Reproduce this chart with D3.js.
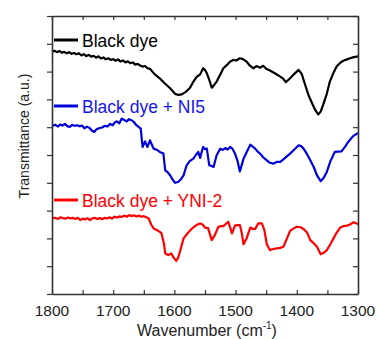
<!DOCTYPE html>
<html>
<head>
<meta charset="utf-8">
<script src="https://cdn.jsdelivr.net/npm/d3@7"></script>
<style>
  html, body { margin: 0; padding: 0; background: #fff; }
  svg { display: block; font-family: Arial, "Liberation Sans", sans-serif; }
</style>
</head>
<body>
<svg id="chart" width="376" height="339"></svg>
<script>
// ---- data (wavenumber in cm^-1, transmittance in arbitrary offset units) ----
const seriesNames = ["Black dye", "Black dye + NI5", "Black dye + YNI-2"];
const seriesColors = ["#000000", "#0000dd", "#ff0000"];
const xTickValues = [1800, 1700, 1600, 1500, 1400, 1300];

const blackWn = [1800,1796,1792,1788,1784,1780,1776,1772,1768,1764,1760,1756,1752,1748,1744,1740,1736,1732,1728,1724,1720,1716,1712,1708,1704,1700,1696,1692,1688,1684,1680,1676,1672,1668,1664,1660,1656,1652,1648,1644,1640,1632,1624,1616,1607,1599,1593,1588,1582,1575,1570,1564,1558,1553,1550,1547,1543,1539,1535,1531,1525,1520,1514,1509,1504,1499,1493,1488,1482,1477,1471,1466,1460,1455,1450,1444,1436,1427,1422,1418,1414,1411,1404,1397,1392,1386,1381,1375,1370,1365,1361,1357,1351,1346,1340,1335,1329,1324,1318,1313,1307,1300];
const blackT  = [8.72,8.75,8.70,8.74,8.68,8.71,8.66,8.70,8.64,8.67,8.62,8.66,8.58,8.63,8.56,8.60,8.54,8.57,8.50,8.55,8.47,8.51,8.44,8.48,8.42,8.45,8.39,8.44,8.36,8.40,8.33,8.37,8.30,8.33,8.25,8.28,8.22,8.18,8.20,8.12,8.10,7.90,7.76,7.58,7.40,7.20,7.16,7.18,7.26,7.40,7.60,7.80,7.90,8.12,8.06,7.94,7.70,7.42,7.52,7.64,7.90,8.12,8.24,8.36,8.42,8.40,8.48,8.45,8.36,8.22,8.12,8.20,8.14,8.21,8.10,8.04,7.94,7.82,7.74,7.62,7.70,7.76,7.92,8.06,7.92,7.50,7.16,6.86,6.62,6.46,6.56,6.80,7.20,7.64,7.96,8.18,8.32,8.39,8.44,8.48,8.52,8.55];

const blueWn = [1800,1795,1790,1787,1783,1779,1775,1771,1767,1763,1759,1755,1751,1747,1743,1739,1735,1731,1727,1722,1718,1714,1709,1705,1701,1697,1694,1690,1686,1682,1678,1674,1670,1666,1662,1658,1655,1652,1648,1644,1640,1637,1634,1628,1624,1618,1615,1611,1607,1603,1599,1594,1589,1585,1580,1575,1569,1565,1561,1558,1555,1553,1550,1547,1543,1539,1536,1531,1525,1521,1517,1513,1509,1505,1501,1497,1493,1487,1482,1476,1472,1468,1464,1460,1455,1449,1444,1438,1433,1427,1420,1411,1404,1397,1393,1389,1383,1378,1372,1367,1361,1356,1351,1345,1338,1333,1327,1321,1316,1308,1300];
const blueT  = [6.04,6.09,6.02,6.10,6.06,6.12,6.04,6.01,6.08,6.05,6.07,6.03,6.06,5.96,6.02,5.98,5.88,5.83,5.93,5.97,5.99,6.05,6.03,6.12,6.07,6.18,6.21,6.14,6.31,6.26,6.21,6.29,6.25,6.18,6.07,6.00,5.95,5.29,5.49,5.29,5.53,5.38,5.23,5.18,5.11,5.05,4.45,4.38,4.27,4.12,4.00,4.03,4.14,4.27,4.63,4.78,4.87,5.00,5.11,4.89,5.14,5.29,5.21,5.23,4.63,4.60,4.57,4.99,5.23,5.18,5.25,5.20,5.29,5.22,5.05,4.80,4.41,4.87,5.10,5.37,5.30,5.23,5.12,5.05,4.92,4.81,4.72,4.69,4.75,4.75,4.88,5.05,5.20,5.35,5.32,5.23,5.02,4.81,4.55,4.27,4.06,4.18,4.39,4.78,5.11,5.12,5.13,5.30,5.47,5.68,5.79];

const redWn = [1800,1795,1790,1786,1782,1778,1774,1770,1766,1762,1758,1754,1750,1746,1742,1738,1734,1730,1726,1722,1718,1714,1710,1706,1702,1698,1694,1690,1686,1682,1678,1674,1670,1666,1662,1658,1654,1650,1646,1642,1638,1634,1629,1624,1621,1617,1615,1610,1605,1601,1597,1594,1591,1585,1580,1575,1570,1564,1558,1554,1550,1545,1539,1534,1528,1524,1520,1516,1512,1509,1506,1501,1497,1493,1490,1487,1482,1476,1472,1468,1463,1457,1453,1449,1444,1438,1433,1427,1422,1416,1411,1405,1400,1394,1389,1383,1378,1372,1367,1361,1356,1351,1345,1340,1335,1329,1324,1318,1313,1308,1304,1300];
const redT  = [2.72,2.74,2.70,2.76,2.73,2.71,2.75,2.72,2.74,2.70,2.74,2.66,2.71,2.68,2.73,2.66,2.72,2.74,2.70,2.73,2.69,2.74,2.72,2.76,2.71,2.78,2.75,2.79,2.77,2.82,2.78,2.84,2.80,2.83,2.79,2.82,2.78,2.80,2.76,2.72,2.50,2.36,2.30,2.24,2.18,1.80,1.46,1.40,1.46,1.30,1.19,1.30,1.52,2.00,2.14,2.27,2.38,2.48,2.54,2.50,2.39,2.37,1.94,2.12,2.42,2.44,2.44,2.52,2.60,2.40,2.18,2.46,2.48,2.48,2.20,1.79,2.00,2.39,2.34,2.34,2.54,2.54,2.30,1.79,1.58,1.62,1.64,1.66,1.70,2.00,2.27,2.36,2.42,2.40,2.34,2.20,1.94,1.82,1.70,1.43,1.48,1.58,1.80,2.00,2.20,2.39,2.44,2.46,2.50,2.58,2.56,2.51];

const seriesWn = [blackWn, blueWn, redWn];
const seriesT  = [blackT, blueT, redT];

// ---- layout ----
const svg = d3.select("#chart");
const mLeft = 52, mRight = 358, mTop = 16, mBottom = 294;

const x = d3.scaleLinear().domain([1800, 1300]).range([mLeft, mRight]);
const y = d3.scaleLinear().domain([0, 10]).range([mBottom, mTop]);

const axisColor = "#333";

// traces
const line = d3.line().x(d => x(d[0])).y(d => y(d[1])).curve(d3.curveLinear);
seriesWn.forEach((wn, i) => {
  const pts = wn.map((w, j) => [w, seriesT[i][j]]);
  svg.append("path")
    .datum(pts)
    .attr("d", line)
    .attr("fill", "none")
    .attr("stroke", seriesColors[i])
    .attr("stroke-width", 2.2)
    .attr("stroke-linejoin", "round");
});

// axes
const minorX = d3.range(1800, 1299, -50);
const gBottom = svg.append("g").attr("transform", `translate(0,${mBottom})`)
  .call(d3.axisBottom(x).tickValues(minorX).tickSizeInner(-4).tickSizeOuter(0).tickFormat(""));
const gTop = svg.append("g").attr("transform", `translate(0,${mTop})`)
  .call(d3.axisTop(x).tickValues(minorX).tickSizeInner(-4).tickSizeOuter(0).tickFormat(""));
const yTicks = d3.range(0, 11);
const gLeft = svg.append("g").attr("transform", `translate(${mLeft},0)`)
  .call(d3.axisLeft(y).tickValues(yTicks).tickSizeInner(5).tickSizeOuter(0).tickFormat(""));
const gRight = svg.append("g").attr("transform", `translate(${mRight},0)`)
  .call(d3.axisRight(y).tickValues(yTicks).tickSizeInner(-5).tickSizeOuter(0).tickFormat(""));
[gBottom, gTop, gLeft, gRight].forEach(g => {
  g.select(".domain").attr("stroke", axisColor).attr("stroke-width", 1.6);
  g.selectAll(".tick line").attr("stroke", axisColor).attr("stroke-width", 1.2);
});

// x tick labels
svg.append("g").selectAll("text").data(xTickValues).join("text")
  .attr("x", d => x(d)).attr("y", 316)
  .attr("text-anchor", "middle")
  .attr("font-size", 15.5)
  .attr("fill", "#222")
  .text(d => d);

// axis titles
const xt = svg.append("text")
  .attr("x", (mLeft + mRight) / 2 + 2).attr("y", 335.5)
  .attr("text-anchor", "middle")
  .attr("font-size", 16)
  .attr("fill", "#222");
xt.append("tspan").text("Wavenumber (cm");
xt.append("tspan").attr("font-size", 10).attr("dy", -7).text("-1");
xt.append("tspan").attr("dy", 7).text(")");

svg.append("text")
  .attr("transform", `translate(29,${136}) rotate(-90)`)
  .attr("text-anchor", "middle")
  .attr("font-size", 14)
  .attr("fill", "#222")
  .text("Transmittance (a.u.)");

// legend labels
const legendY = [40, 106, 200];
seriesNames.forEach((name, i) => {
  svg.append("line")
    .attr("x1", 54).attr("x2", 78)
    .attr("y1", legendY[i]).attr("y2", legendY[i])
    .attr("stroke", seriesColors[i]).attr("stroke-width", 3);
  svg.append("text")
    .attr("x", 82).attr("y", legendY[i] + 6.5)
    .attr("font-size", 17.5)
    .attr("fill", seriesColors[i] === "#0000dd" ? "#1515ee" : seriesColors[i])
    .text(name);
});
</script>
</body>
</html>
